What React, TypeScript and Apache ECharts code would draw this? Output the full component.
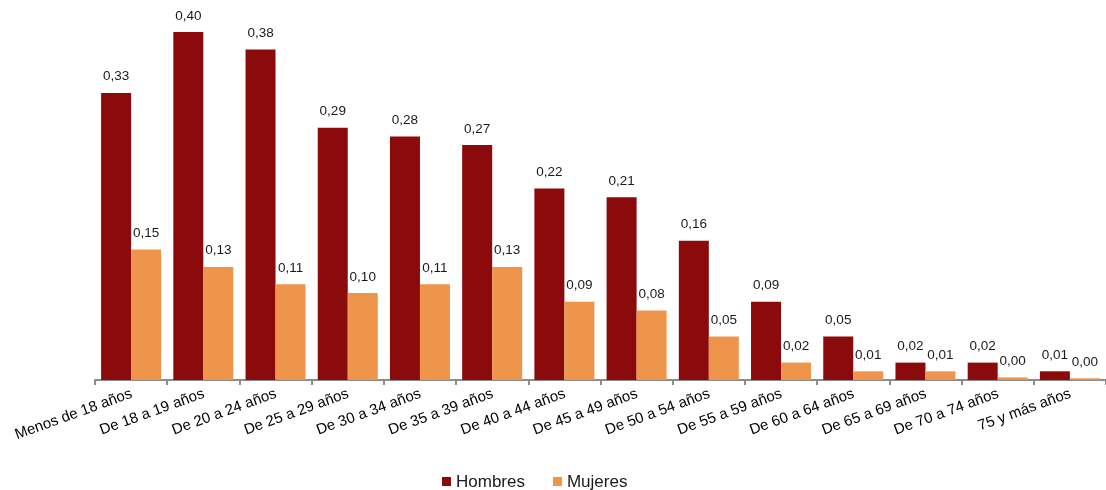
import React, { useEffect, useRef } from "react";
import * as echarts from "echarts";

const categories = [
  "Menos de 18 años",
  "De 18 a 19 años",
  "De 20 a 24 años",
  "De 25 a 29 años",
  "De 30 a 34 años",
  "De 35 a 39 años",
  "De 40 a 44 años",
  "De 45 a 49 años",
  "De 50 a 54 años",
  "De 55 a 59 años",
  "De 60 a 64 años",
  "De 65 a 69 años",
  "De 70 a 74 años",
  "75 y más años",
];

const hombres = [0.33, 0.40, 0.38, 0.29, 0.28, 0.27, 0.22, 0.21, 0.16, 0.09, 0.05, 0.02, 0.02, 0.01];
const mujeres = [0.15, 0.13, 0.11, 0.10, 0.11, 0.13, 0.09, 0.08, 0.05, 0.02, 0.01, 0.01, 0.003, 0.002];

const FONT = "'Liberation Sans', Arial, sans-serif";

const fmt = (v: number) => v.toFixed(2).replace(".", ",");

export default function App() {
  const ref = useRef<HTMLDivElement>(null);

  useEffect(() => {
    if (!ref.current) return;
    document.body.style.margin = "0";
    document.body.style.overflow = "hidden";
    const chart = echarts.init(ref.current, null, { renderer: "svg" });
    const label = {
      show: true,
      position: "top" as const,
      distance: 10,
      color: "#1a1a1a",
      fontSize: 13.5,
      fontFamily: FONT,
      formatter: (p: any) => fmt(p.value),
    };
    chart.setOption({
      animation: false,
      textStyle: { fontFamily: FONT },
      grid: { left: 95, right: -7, top: 32, bottom: 110, containLabel: false },
      legend: {
        top: 473,
        left: 442,
        padding: 0,
        icon: "rect",
        itemWidth: 9,
        itemHeight: 9,
        itemGap: 28,
        textStyle: { fontSize: 17, color: "#1a1a1a", fontFamily: FONT },
        data: ["Hombres", "Mujeres"],
      },
      xAxis: {
        type: "category",
        data: categories,
        axisLine: { show: true, lineStyle: { color: "#8c8c8c", width: 2 } },
        axisTick: { show: true, length: 5, lineStyle: { color: "#8c8c8c", width: 2 } },
        axisLabel: {
          rotate: 20,
          fontSize: 15,
          color: "#000",
          fontFamily: FONT,
          margin: 12,
          interval: 0,
        },
      },
      yAxis: {
        type: "value",
        min: 0,
        max: 0.4,
        show: false,
        splitLine: { show: false },
      },
      series: [
        {
          name: "Hombres",
          type: "bar",
          data: hombres,
          barWidth: 30,
          barGap: "0%",
          itemStyle: { color: "#8B0B0C" },
          label,
        },
        {
          name: "Mujeres",
          type: "bar",
          data: mujeres,
          barWidth: 30,
          itemStyle: { color: "#EE954B" },
          label,
        },
      ],
    });
    return () => chart.dispose();
  }, []);

  return (
    <div
      ref={ref}
      style={{ position: "fixed", left: 0, top: 0, width: 1106, height: 490, overflow: "hidden" }}
    />
  );
}
